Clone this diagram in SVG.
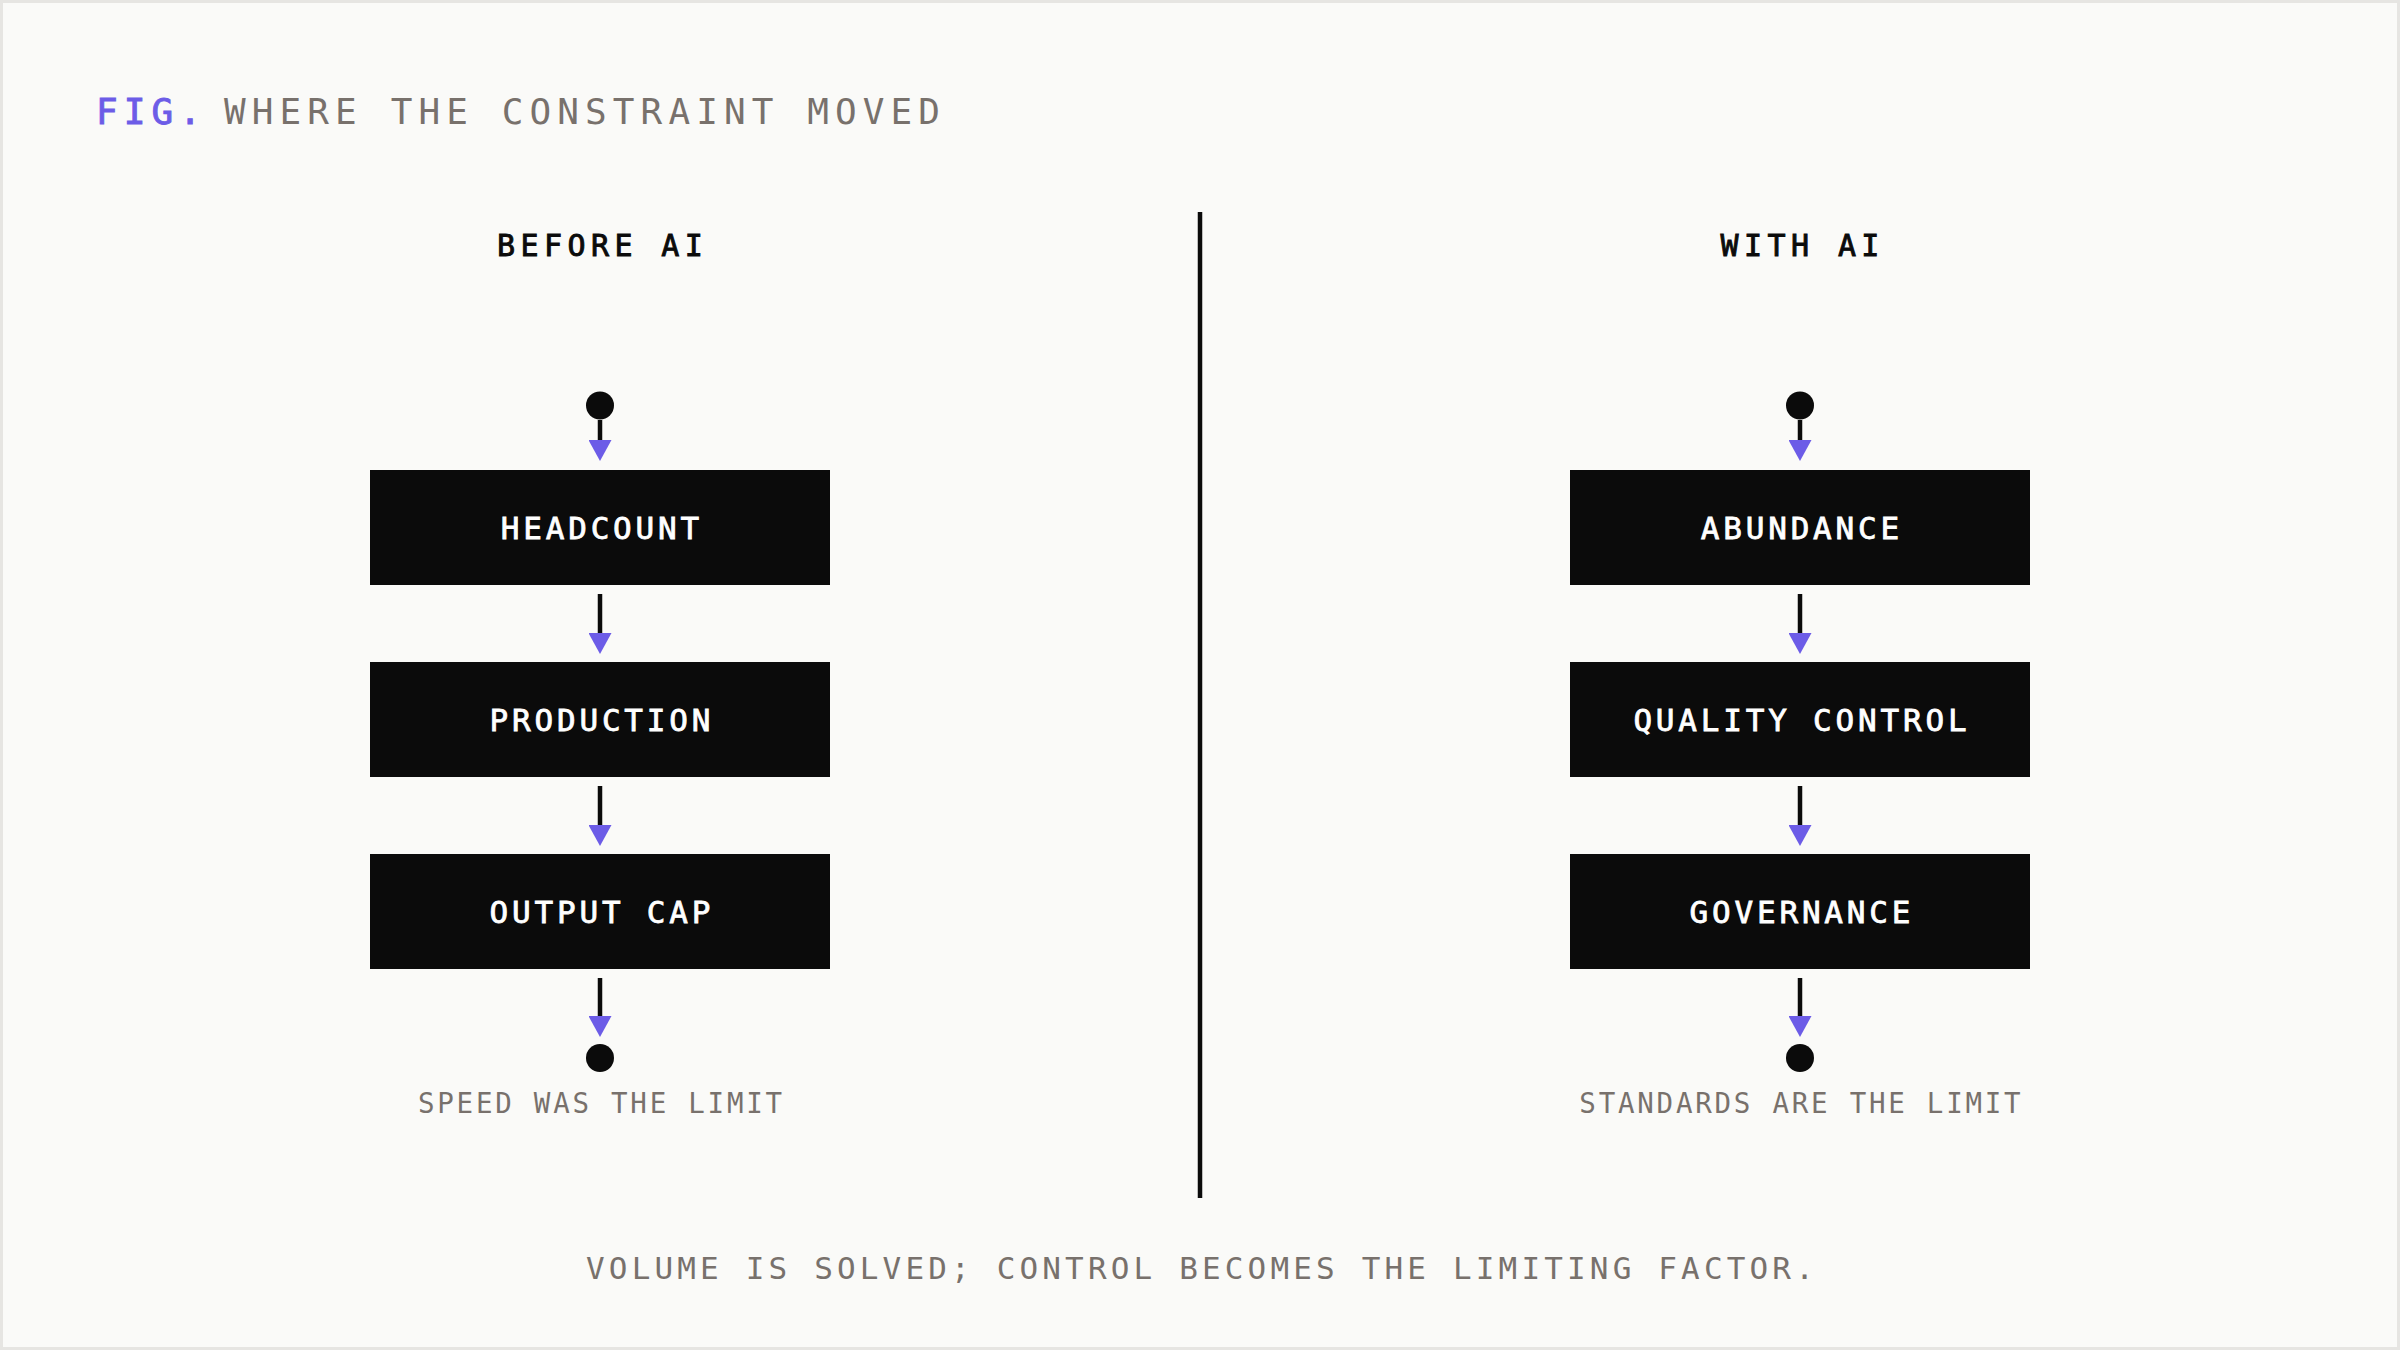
<svg xmlns="http://www.w3.org/2000/svg" width="2400" height="1350" viewBox="0 0 2400 1350">
  <defs>
    <style>
      .mono { font-family: "DejaVu Sans Mono", "Liberation Mono", monospace; }
      .title { font-size: 36px; letter-spacing: 6.1px; fill: #78716c; }
      .fig { font-size: 36px; letter-spacing: 6.1px; fill: #6c5ce7; stroke: #6c5ce7; stroke-width: 0.9px; }
      .head { font-size: 30px; letter-spacing: 5.4px; fill: #0b0b0b; stroke: #0b0b0b; stroke-width: 0.9px; text-anchor: middle; }
      .boxlabel { font-size: 31px; letter-spacing: 3.8px; fill: #ffffff; stroke: #ffffff; stroke-width: 0.8px; text-anchor: middle; }
      .caption { font-size: 27.5px; letter-spacing: 2.75px; fill: #78716c; text-anchor: middle; }
      .footer { font-size: 31px; letter-spacing: 4.15px; fill: #78716c; text-anchor: middle; }
      .box { fill: #0b0b0b; }
      .dot { fill: #0b0b0b; }
      .conn { stroke: #0b0b0b; stroke-width: 4.5; fill: none; marker-end: url(#arrow); }
    </style>
    <marker id="arrow" markerUnits="userSpaceOnUse" markerWidth="21" markerHeight="23" viewBox="0 0 21 23" refX="0" refY="11.5" orient="auto">
      <path d="M0,0 L21,11.5 L0,23 Z" fill="#6c5ce7"/>
    </marker>
  </defs>

  <rect x="1.5" y="1.5" width="2397" height="1347" fill="#fafaf8" stroke="#e6e5e2" stroke-width="3"/>

  <g id="title" class="mono">
    <text class="fig" x="96" y="124">FIG.</text>
    <text class="title" x="224" y="124">WHERE THE CONSTRAINT MOVED</text>
  </g>

  <g id="divider">
    <line x1="1200" y1="212" x2="1200" y2="1198" stroke="#0b0b0b" stroke-width="4.5"/>
  </g>

  <g id="header-before" class="mono">
    <text class="head" x="602.7" y="256">BEFORE AI</text>
  </g>
  <g id="header-with" class="mono">
    <text class="head" x="1802.7" y="256">WITH AI</text>
  </g>

  <g id="start-left"><circle class="dot" cx="600" cy="405.5" r="14"/></g>
  <g id="start-right"><circle class="dot" cx="1800" cy="405.5" r="14"/></g>

  <g id="node-headcount" class="mono">
    <rect class="box" x="370" y="470" width="460" height="115"/>
    <text class="boxlabel" x="601.9" y="539">HEADCOUNT</text>
  </g>
  <g id="node-production" class="mono">
    <rect class="box" x="370" y="662" width="460" height="115"/>
    <text class="boxlabel" x="601.9" y="731">PRODUCTION</text>
  </g>
  <g id="node-outputcap" class="mono">
    <rect class="box" x="370" y="854" width="460" height="115"/>
    <text class="boxlabel" x="601.9" y="923">OUTPUT CAP</text>
  </g>

  <g id="node-abundance" class="mono">
    <rect class="box" x="1570" y="470" width="460" height="115"/>
    <text class="boxlabel" x="1801.9" y="539">ABUNDANCE</text>
  </g>
  <g id="node-quality" class="mono">
    <rect class="box" x="1570" y="662" width="460" height="115"/>
    <text class="boxlabel" x="1801.9" y="731">QUALITY CONTROL</text>
  </g>
  <g id="node-governance" class="mono">
    <rect class="box" x="1570" y="854" width="460" height="115"/>
    <text class="boxlabel" x="1801.9" y="923">GOVERNANCE</text>
  </g>

  <g id="end-left"><circle class="dot" cx="600" cy="1058" r="14"/></g>
  <g id="end-right"><circle class="dot" cx="1800" cy="1058" r="14"/></g>

  <g id="connectors">
    <line class="conn" x1="600" y1="420" x2="600" y2="440"/>
    <line class="conn" x1="600" y1="594" x2="600" y2="633"/>
    <line class="conn" x1="600" y1="786" x2="600" y2="825"/>
    <line class="conn" x1="600" y1="978" x2="600" y2="1016"/>
    <line class="conn" x1="1800" y1="420" x2="1800" y2="440"/>
    <line class="conn" x1="1800" y1="594" x2="1800" y2="633"/>
    <line class="conn" x1="1800" y1="786" x2="1800" y2="825"/>
    <line class="conn" x1="1800" y1="978" x2="1800" y2="1016"/>
  </g>

  <g id="caption-left" class="mono">
    <text class="caption" x="601.4" y="1113">SPEED WAS THE LIMIT</text>
  </g>
  <g id="caption-right" class="mono">
    <text class="caption" x="1801.4" y="1113">STANDARDS ARE THE LIMIT</text>
  </g>

  <g id="footer" class="mono">
    <text class="footer" x="1202" y="1279">VOLUME IS SOLVED; CONTROL BECOMES THE LIMITING FACTOR.</text>
  </g>
</svg>
